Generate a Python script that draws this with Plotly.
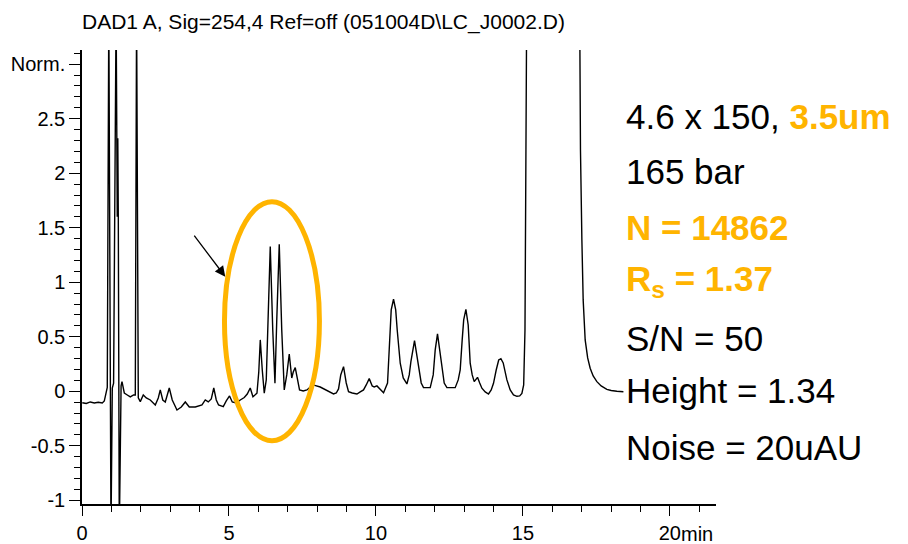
import plotly.graph_objects as go

# Chromatogram trace (time in min, normalised signal).
# Values of 3.5 / -1.3 mark signal that runs off the top / bottom of the plot.
time_min = [
    0.01, 0.146, 0.282, 0.418, 0.554, 0.69, 0.759, 0.81, 0.86,
    0.912, 0.986, 1.031, 1.075, 1.16, 1.2, 1.218, 1.235, 1.269, 1.33,
    1.361, 1.439, 1.541, 1.643, 1.755, 1.813, 1.857, 1.915, 1.983,
    2.085, 2.187, 2.323, 2.493, 2.595, 2.663, 2.748, 2.833, 2.969,
    3.071, 3.231, 3.378, 3.514, 3.65, 3.854, 4.082, 4.194, 4.296,
    4.398, 4.483, 4.568, 4.646, 4.806, 4.908, 5.02, 5.112, 5.248,
    5.384, 5.52, 5.622, 5.724, 5.816, 5.952, 6.014, 6.065, 6.133,
    6.201, 6.269, 6.337, 6.405, 6.49, 6.565, 6.626, 6.711, 6.796,
    6.881, 6.966, 7.051, 7.136, 7.187, 7.255, 7.323, 7.401, 7.527,
    7.653, 7.765, 7.867, 8.105, 8.333, 8.558, 8.65, 8.728, 8.803,
    8.898, 8.99, 9.068, 9.194, 9.354, 9.466, 9.578, 9.67, 9.772,
    9.874, 9.942, 10.034, 10.112, 10.259, 10.395, 10.469, 10.52,
    10.599, 10.673, 10.724, 10.827, 10.929, 11.054, 11.133, 11.19,
    11.313, 11.388, 11.449, 11.541, 11.619, 11.847, 11.949, 12.017,
    12.095, 12.17, 12.245, 12.323, 12.415, 12.697, 12.799, 12.867,
    12.935, 12.986, 13.061, 13.139, 13.207, 13.276, 13.344, 13.456,
    13.531, 13.605, 13.718, 13.83, 13.922, 14.0, 14.092, 14.177,
    14.252, 14.33, 14.456, 14.568, 14.68, 14.796, 14.891, 14.966,
    15.027, 15.071, 15.095, 15.129, 16.932, 16.959, 17.007, 17.051,
    17.119, 17.204, 17.289, 17.391, 17.517, 17.663, 17.857, 18.003,
    18.197, 18.42,
]
signal = [
    -0.105, -0.112, -0.098, -0.107, -0.101, -0.107, -0.089, -0.006, 0.035,
    3.5, -1.3, 0.03, 0.075, 3.5, 1.6, 2.32, 1.6, -1.3, 0.05,
    0.088, -0.016, -0.034, -0.052, -0.034, -0.034, 3.5, -0.061, -0.095,
    -0.034, -0.061, -0.08, -0.126, -0.061, 0.012, -0.08, -0.098, 0.03,
    -0.08, -0.172, -0.144, -0.098, -0.144, -0.144, -0.126, -0.08, -0.098,
    -0.071, 0.03, -0.08, -0.126, -0.141, -0.089, -0.043, -0.098, -0.107,
    -0.08, -0.057, -0.025, 0.03, -0.05, -0.018, 0.177, 0.471, 0.195,
    -0.018, 0.104, 0.838, 1.327, 0.562, 0.073, 0.654, 1.349, 0.562,
    0.012, 0.15, 0.342, 0.122, 0.177, 0.217, 0.104, 0.012, 0.003,
    0.012, 0.039, 0.058, 0.039, 0.003, -0.025, -0.016, 0.021, 0.15,
    0.226, 0.076, -0.004, -0.016, -0.025, -0.006, 0.012, 0.058, 0.116,
    0.049, 0.039, 0.049, 0.03, -0.013, 0.076, 0.471, 0.746,
    0.844, 0.746, 0.562, 0.257, 0.122, 0.067, 0.15, 0.272,
    0.464, 0.333, 0.195, 0.076, 0.033, 0.033, 0.15, 0.379,
    0.526, 0.379, 0.195, 0.076, 0.033, 0.033, 0.104, 0.195,
    0.471, 0.654, 0.752, 0.608, 0.257, 0.15, 0.088, 0.128,
    0.076, 0.028, -0.006, -0.025, 0.012, 0.073, 0.195, 0.287,
    0.299, 0.26, 0.104, 0.012, -0.034, -0.046, -0.043, -0.02,
    0.058, 0.562, 1.755, 3.5, 3.5, 2.214, 1.388, 0.838,
    0.471, 0.306, 0.211, 0.14, 0.088, 0.049, 0.018, 0.007,
    0.0, -0.004,
]

x_tick_vals = [0, 5, 10, 15, 20]
x_tick_text = ["0", "5", "10", "15", "20"]
y_tick_vals = [-1, -0.5, 0, 0.5, 1, 1.5, 2, 2.5, 3]
y_tick_text = ["-1", "-0.5", "0", "0.5", "1", "1.5", "2", "2.5", "Norm."]

title_text = "DAD1 A, Sig=254,4 Ref=off (051004D\\LC_J0002.D)"
ORANGE = "#FFB400"
info_lines = [
    "4.6 x 150, <b><span style='color:%s'>3.5um</span></b>" % ORANGE,
    "165 bar",
    "<b><span style='color:%s'>N = 14862</span></b>" % ORANGE,
    "<b><span style='color:%s'>R<sub>s</sub> = 1.37</span></b>" % ORANGE,
    "S/N = 50",
    "Height = 1.34",
    "Noise = 20uAU",
]
info_centers_px = [116, 171, 227, 281, 338, 390, 447]

FONT = "Liberation Sans, Arial, sans-serif"
W, H = 908, 544
L, R, T, B = 82, 192, 50, 40

fig = go.Figure()
fig.add_trace(go.Scatter(x=time_min, y=signal, mode="lines",
                         line=dict(color="black", width=1.4),
                         hoverinfo="skip"))

axis_common = dict(showline=True, linecolor="black", linewidth=1.5,
                   ticks="outside", tickwidth=1.3, tickcolor="black",
                   showgrid=False, zeroline=False, automargin=False,
                   tickfont=dict(family=FONT, size=20, color="black"))

fig.update_xaxes(range=[0, 21.57], tickmode="array", tickvals=x_tick_vals,
                 ticktext=x_tick_text, ticklen=10,
                 minor=dict(tickmode="linear", tick0=0, dtick=1, ticklen=6,
                            ticks="outside", tickcolor="black", tickwidth=1.3),
                 **axis_common)
fig.update_yaxes(range=[-1.034, 3.13], tickmode="array", tickvals=y_tick_vals,
                 ticktext=y_tick_text, ticklen=11,
                 minor=dict(tickmode="linear", tick0=0, dtick=0.1, ticklen=6,
                            ticks="outside", tickcolor="black", tickwidth=1.3),
                 **axis_common)

plot_w = W - L - R
plot_h = H - T - B
annotations = []
for txt, yc in zip(info_lines, info_centers_px):
    annotations.append(dict(text=txt, xref="paper", yref="paper",
                            x=(624 - L) / plot_w, y=(H - B - yc) / plot_h,
                            xanchor="left", yanchor="middle", showarrow=False,
                            font=dict(family=FONT, size=35, color="black")))
# "min" unit after the last x tick label
annotations.append(dict(text="min", xref="x", yref="paper", x=20, xshift=9,
                        y=(H - B - 534) / plot_h, xanchor="left", yanchor="middle",
                        showarrow=False,
                        font=dict(family=FONT, size=20, color="black")))
# arrow pointing at the critical pair
annotations.append(dict(text=" ", x=4.874, y=1.051, xref="x", yref="y",
                        ax=-34, ay=-45, showarrow=True, arrowhead=2,
                        arrowsize=1.6, arrowwidth=1.3, arrowcolor="black"))

fig.update_layout(
    width=W, height=H, margin=dict(l=L, r=R, t=T, b=B),
    plot_bgcolor="white", paper_bgcolor="white", showlegend=False,
    title=dict(text=title_text, x=L / W, xanchor="left", y=1 - 22 / H,
               yanchor="middle", font=dict(family=FONT, size=21, color="black")),
    annotations=annotations,
    shapes=[dict(type="circle", xref="x", yref="y", x0=4.847, x1=8.078,
                 y0=-0.454, y1=1.739, line=dict(color=ORANGE, width=5))],
)

fig.write_html("out.html")
